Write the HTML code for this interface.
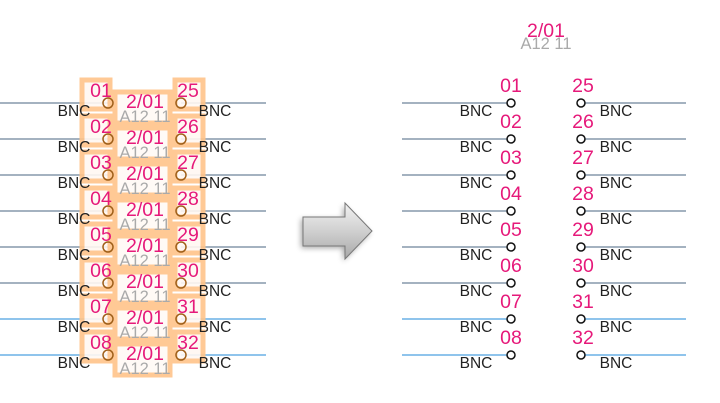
<!DOCTYPE html>
<html><head><style>body{margin:0;background:#fff}svg{display:block}text{font-family:"Liberation Sans",sans-serif}</style></head><body>
<svg width="720" height="403" xmlns="http://www.w3.org/2000/svg">
<defs>
<linearGradient id="ag" x1="0" y1="0" x2="0" y2="1"><stop offset="0" stop-color="#f2f2f2"/><stop offset="0.5" stop-color="#d0d0d0"/><stop offset="1" stop-color="#a8a8a8"/></linearGradient>
<filter id="sh" x="-30%" y="-30%" width="160%" height="160%"><feGaussianBlur stdDeviation="3"/></filter>
<g id="L">
<line x1="0" x2="108" y1="0" y2="0" stroke-width="1"/>
<line x1="181" x2="266" y1="0" y2="0" stroke-width="1"/>
<rect x="82" y="-23" width="28" height="29" fill="#fff8f2" stroke="#ffc48a" stroke-width="5" opacity="0.9"/>
<rect x="175" y="-23" width="28" height="29" fill="#fff8f2" stroke="#ffc48a" stroke-width="5" opacity="0.9"/>
<rect x="115" y="-11" width="55" height="31" fill="#fffaf6" stroke="#ffc48a" stroke-width="5" opacity="0.9"/>
<circle cx="108" cy="0" r="5" fill="none" stroke="#a0601a" stroke-width="1.5"/>
<circle cx="181" cy="0" r="5" fill="none" stroke="#a0601a" stroke-width="1.5"/>
</g>
<g id="R">
<line x1="402" x2="508" y1="0" y2="0" stroke-width="1"/>
<line x1="584" x2="686" y1="0" y2="0" stroke-width="1"/>
<circle cx="511" cy="0" r="4" fill="none" stroke="#111" stroke-width="1.5"/>
<circle cx="581" cy="0" r="4" fill="none" stroke="#111" stroke-width="1.5"/>
</g>
</defs>
<g stroke="#4a6680"><use href="#L" y="103"/><use href="#L" y="139"/><use href="#L" y="175"/><use href="#L" y="211"/><use href="#L" y="247"/><use href="#L" y="283"/>
<use href="#R" y="103"/><use href="#R" y="139"/><use href="#R" y="175"/><use href="#R" y="211"/><use href="#R" y="247"/><use href="#R" y="283"/></g>
<g stroke="#1f8ad8"><use href="#L" y="319"/><use href="#L" y="355"/><use href="#R" y="319"/><use href="#R" y="355"/></g>

<g font-size="19.5" fill="#e6197a" text-anchor="middle">
<text x="101" y="97">01</text><text x="101" y="133">02</text><text x="101" y="169">03</text><text x="101" y="205">04</text><text x="101" y="241">05</text><text x="101" y="277">06</text><text x="101" y="313">07</text><text x="101" y="349">08</text>
<text x="188" y="97">25</text><text x="188" y="133">26</text><text x="188" y="169">27</text><text x="188" y="205">28</text><text x="188" y="241">29</text><text x="188" y="277">30</text><text x="188" y="313">31</text><text x="188" y="349">32</text>
<text x="145" y="108">2/01</text><text x="145" y="144">2/01</text><text x="145" y="180">2/01</text><text x="145" y="216">2/01</text><text x="145" y="252">2/01</text><text x="145" y="288">2/01</text><text x="145" y="324">2/01</text><text x="145" y="360">2/01</text>
<text x="511" y="92">01</text><text x="511" y="128">02</text><text x="511" y="164">03</text><text x="511" y="200">04</text><text x="511" y="236">05</text><text x="511" y="272">06</text><text x="511" y="308">07</text><text x="511" y="344">08</text>
<text x="583" y="92">25</text><text x="583" y="128">26</text><text x="583" y="164">27</text><text x="583" y="200">28</text><text x="583" y="236">29</text><text x="583" y="272">30</text><text x="583" y="308">31</text><text x="583" y="344">32</text>
<text x="546" y="37">2/01</text>
</g>
<g font-size="16.5" fill="#aaa" text-anchor="middle">
<text x="145" y="122">A12 11</text><text x="145" y="158">A12 11</text><text x="145" y="194">A12 11</text><text x="145" y="230">A12 11</text><text x="145" y="266">A12 11</text><text x="145" y="302">A12 11</text><text x="145" y="338">A12 11</text><text x="145" y="374">A12 11</text>
<text x="546" y="49">A12 11</text>
</g>
<g font-size="15.5" fill="#222" text-anchor="middle">
<text x="74" y="116">BNC</text><text x="74" y="152">BNC</text><text x="74" y="188">BNC</text><text x="74" y="224">BNC</text><text x="74" y="260">BNC</text><text x="74" y="296">BNC</text><text x="74" y="332">BNC</text><text x="74" y="368">BNC</text>
<text x="215" y="116">BNC</text><text x="215" y="152">BNC</text><text x="215" y="188">BNC</text><text x="215" y="224">BNC</text><text x="215" y="260">BNC</text><text x="215" y="296">BNC</text><text x="215" y="332">BNC</text><text x="215" y="368">BNC</text>
<text x="476" y="116">BNC</text><text x="476" y="152">BNC</text><text x="476" y="188">BNC</text><text x="476" y="224">BNC</text><text x="476" y="260">BNC</text><text x="476" y="296">BNC</text><text x="476" y="332">BNC</text><text x="476" y="368">BNC</text>
<text x="616" y="116">BNC</text><text x="616" y="152">BNC</text><text x="616" y="188">BNC</text><text x="616" y="224">BNC</text><text x="616" y="260">BNC</text><text x="616" y="296">BNC</text><text x="616" y="332">BNC</text><text x="616" y="368">BNC</text>
</g>
<polygon points="303,217 345,217 345,203 372,231 345,259 345,246 303,246" fill="#000" opacity="0.35" filter="url(#sh)" transform="translate(-2,2)"/>
<polygon points="303,217 345,217 345,203 372,231 345,259 345,246 303,246" fill="url(#ag)" stroke="#777" stroke-width="1"/>
</svg>
</body></html>
